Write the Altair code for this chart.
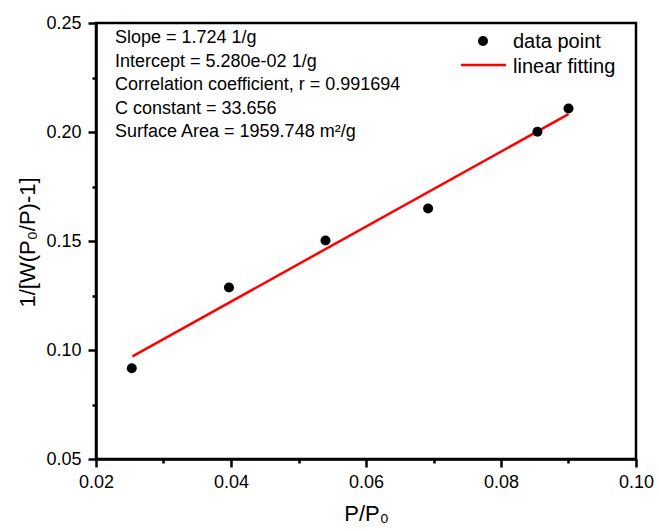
import altair as alt
import pandas as pd

# ---- data ----
x_vals = [0.0253, 0.0397, 0.0540, 0.0692, 0.0854, 0.0900]
y_vals = [0.0916, 0.1287, 0.1502, 0.1649, 0.2001, 0.2108]
fit_x = [0.0254, 0.0900]
fit_y = [0.0971, 0.2082]
x_major = [0.02, 0.04, 0.06, 0.08, 0.10]
x_minor = [0.03, 0.05, 0.07, 0.09]
y_major = [0.05, 0.10, 0.15, 0.20, 0.25]
y_minor = [0.075, 0.125, 0.175, 0.225]
info_lines = [
    "Slope = 1.724 1/g",
    "Intercept = 5.280e-02 1/g",
    "Correlation coefficient, r = 0.991694",
    "C constant = 33.656",
    "Surface Area = 1959.748 m\u00b2/g",
]
legend_labels = ["data point", "linear fitting"]
x_title = "P/P\u2080"
y_title = "1/[W(P\u2080/P)-1]"

FONT = "Liberation Sans"
W, H = 540, 436
PAD_L, PAD_T = 96, 23

pts = pd.DataFrame({"x": x_vals, "y": y_vals})
fit = pd.DataFrame({"x": fit_x, "y": fit_y})
one = pd.DataFrame({"k": [0]})

xs = alt.Scale(domain=[0.02, 0.10], nice=False, zero=False)
ys = alt.Scale(domain=[0.05, 0.25], nice=False, zero=False)

x_axis_major = alt.Axis(
    orient="bottom", values=x_major, format=".2f", grid=False,
    tickSize=8, tickWidth=2.5, tickColor="black",
    domainColor="black", domainWidth=2.5,
    labelFont=FONT, labelFontSize=18, labelColor="black", labelPadding=6,
    labelFlush=False, labelOverlap=False,
    title=x_title, titleFont=FONT, titleFontSize=22, titleFontWeight="normal",
    titleColor="black", titleBaseline="alphabetic", titleY=61,
)
y_axis_major = alt.Axis(
    orient="left", values=y_major, format=".2f", grid=False,
    tickSize=8, tickWidth=2.5, tickColor="black",
    domainColor="black", domainWidth=2.5,
    labelFont=FONT, labelFontSize=18, labelColor="black", labelPadding=7,
    labelFlush=False, labelOverlap=False,
    title=y_title, titleFont=FONT, titleFontSize=22, titleFontWeight="normal",
    titleColor="black", titleBaseline="middle", titleX=-69, titleY=H / 2 + 1,
)
x_axis_minor = alt.Axis(
    orient="bottom", values=x_minor, grid=False, labels=False, domain=False,
    tickSize=4, tickWidth=2.5, tickColor="black", title=None,
)
y_axis_minor = alt.Axis(
    orient="left", values=y_minor, grid=False, labels=False, domain=False,
    tickSize=4, tickWidth=2.5, tickColor="black", title=None,
)

fit_line = alt.Chart(fit).mark_line(color="#ff0000", strokeWidth=2.5).encode(
    x=alt.X("x:Q", scale=xs, axis=x_axis_minor),
    y=alt.Y("y:Q", scale=ys, axis=y_axis_minor),
)
points = alt.Chart(pts).mark_circle(size=100, color="black", opacity=1).encode(
    x=alt.X("x:Q", scale=xs, axis=x_axis_major),
    y=alt.Y("y:Q", scale=ys, axis=y_axis_major),
)
info = alt.Chart(one).mark_text(
    align="left", baseline="alphabetic", font=FONT, fontSize=18,
    lineHeight=23.5, color="black",
).encode(x=alt.value(19), y=alt.value(20), text=alt.value(info_lines))

leg_pt = alt.Chart(one).mark_circle(size=100, color="black", opacity=1).encode(
    x=alt.value(387), y=alt.value(18)
)
leg_rule = alt.Chart(one).mark_rule(color="#ff0000", strokeWidth=2.5).encode(
    x=alt.value(365), x2=alt.value(410), y=alt.value(42)
)
leg_txt = alt.Chart(one).mark_text(
    align="left", baseline="alphabetic", font=FONT, fontSize=20,
    lineHeight=24.5, color="black",
).encode(x=alt.value(417), y=alt.value(25), text=alt.value(legend_labels))

chart = (
    alt.layer(fit_line, points, info, leg_pt, leg_rule, leg_txt)
    .resolve_axis(x="independent", y="independent")
    .properties(
        width=W, height=H,
        padding={"left": PAD_L, "top": PAD_T, "right": 659 - PAD_L - W, "bottom": 531 - PAD_T - H},
        autosize=alt.AutoSizeParams(type="none"),
        background="white",
    )
    .configure_view(stroke="black", strokeWidth=2.5)
)

chart.save("out.html", embed_options={"renderer": "svg", "actions": False})
